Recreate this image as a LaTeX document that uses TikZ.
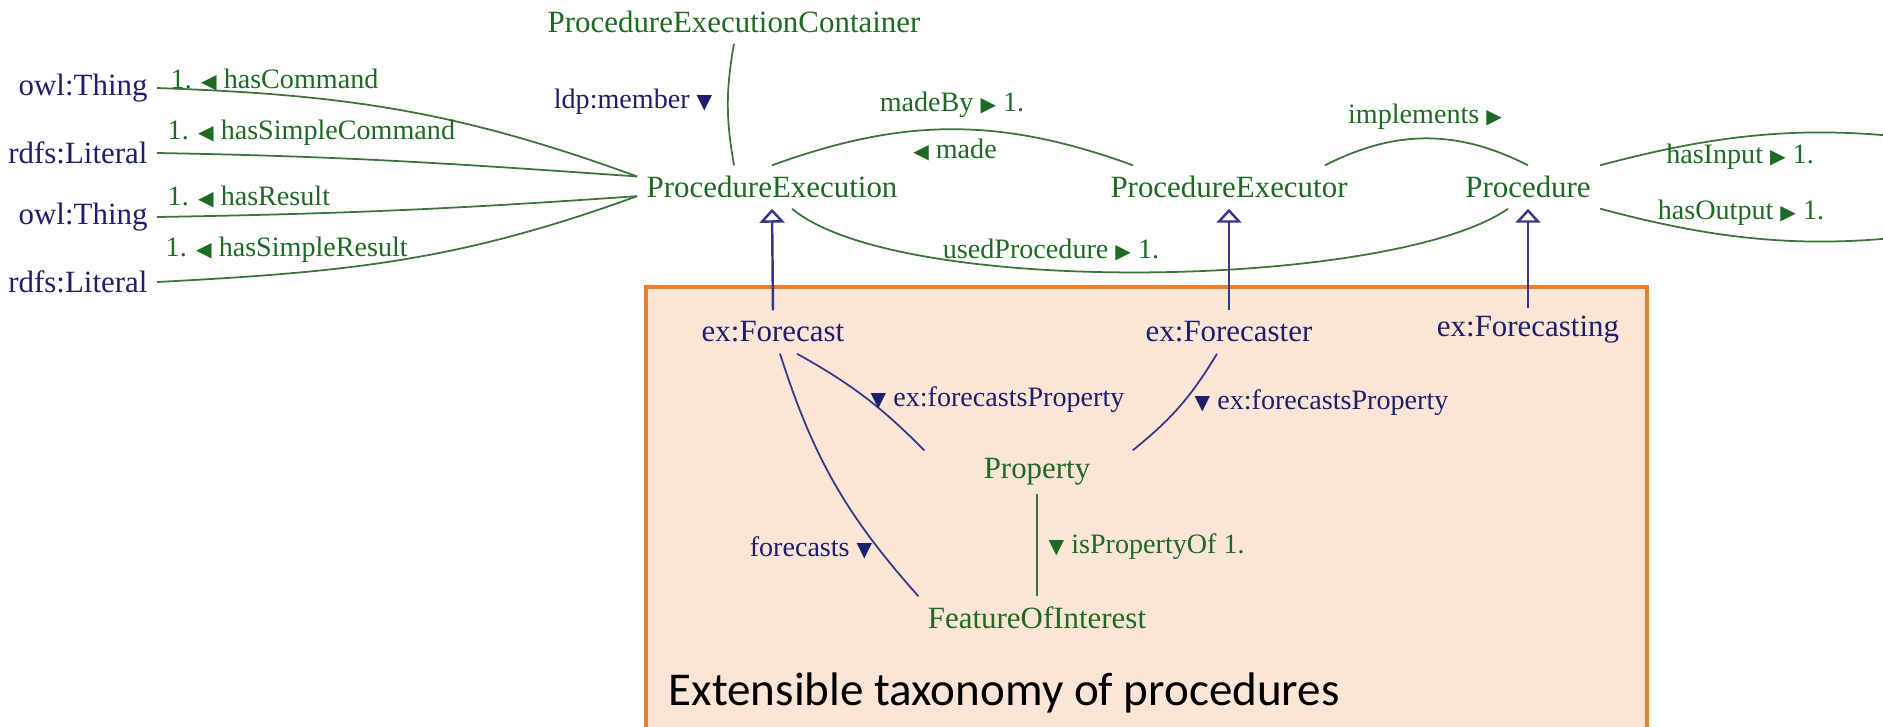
\documentclass[tikz,border=0pt]{standalone}
\usepackage{fontspec}
\setmainfont{Liberation Serif}
\newfontfamily\symfont{DejaVu Sans}[Scale=0.72]
\newfontfamily\capfont{Carlito}
\usetikzlibrary{arrows.meta}

\definecolor{ontgreen}{RGB}{30,105,35}
\definecolor{ontnavy}{RGB}{30,30,110}
\definecolor{edgegreen}{RGB}{60,115,60}
\definecolor{edgenavy}{RGB}{55,55,135}
\definecolor{boxorange}{RGB}{237,125,49}
\definecolor{boxfill}{RGB}{251,229,214}

\newcommand{\triL}{{\symfont ◀}}
\newcommand{\triR}{{\symfont ▶}}
\newcommand{\triD}{{\symfont ▼}}

\begin{document}
\begin{tikzpicture}[
    cls/.style={text=ontgreen, font=\fontsize{8.8}{10}\selectfont, inner xsep=2.5pt, inner ysep=0pt, minimum height=4.2mm},
    ext/.style={cls, text=ontnavy},
    lbl/.style={text=ontgreen, font=\fontsize{8}{9}\selectfont, inner sep=0pt},
    lblnavy/.style={lbl, text=ontnavy},
    objprop/.style={draw=edgegreen, line width=0.5pt},
    extprop/.style={draw=edgenavy, line width=0.5pt},
    subclass/.style={draw=edgenavy, line width=0.7pt, -{Triangle[open, width=2.5mm, length=1.4mm]}}
]
    \useasboundingbox (0,0) rectangle (18.83,7.26);

    % Extension box (drawn first, behind everything)
    \draw[draw=boxorange, fill=boxfill, line width=0.9pt] (6.46,4.39) rectangle (16.47,-0.3);
    \node[anchor=base west, inner sep=0pt, font={\capfont\fontsize{13.4}{16}\selectfont}] (title) at (6.68,0.21) {Extensible taxonomy of procedures};

    % Left column: ranges
    \node[ext, anchor=east] (owlA) at (1.57, 6.38) {owl:Thing};
    \node[ext, anchor=east] (litA) at (1.57, 5.73) {rdfs:Literal};
    \node[ext, anchor=east] (owlB) at (1.57, 5.09) {owl:Thing};
    \node[ext, anchor=east] (litB) at (1.57, 4.44) {rdfs:Literal};

    % Core classes
    \node[cls] (pec) at (7.34, 7.04) {ProcedureExecutionContainer};
    \node[cls] (pe) at (7.72, 5.39) {ProcedureExecution};
    \node[cls] (pex) at (12.29, 5.39) {ProcedureExecutor};
    \node[cls] (proc) at (15.28, 5.39) {Procedure};
    \coordinate (inEnd) at (20.0, 5.75);
    \coordinate (outEnd) at (20.0, 5.03);

    % Extension classes
    \node[ext] (fc) at (7.73, 3.94) {ex:Forecast};
    \node[ext] (fcr) at (12.29, 3.94) {ex:Forecaster};
    \node[ext] (fcg) at (15.28, 3.96) {ex:Forecasting};
    \node[cls] (property) at (10.37, 2.54) {Property};
    \node[cls] (foi) at (10.37, 1.08) {FeatureOfInterest};

    % Edges (left fan into ProcedureExecution)
    \draw[objprop] (owlA.east) to[out=-2, in=160] ([yshift=3pt]pe.west);
    \draw[objprop] (litA.east) to[out=-1, in=176] ([yshift=3pt]pe.west);
    \draw[objprop] (owlB.east) to[out=1, in=-176] ([yshift=-2.6pt]pe.west);
    \draw[objprop] (litB.east) to[out=3, in=-160] ([yshift=-2.6pt]pe.west);
    \node[lbl, anchor=west] (lCmd) at (1.70, 6.46) {1. \triL\ hasCommand};
    \node[lbl, anchor=west] (lSCmd) at (1.67, 5.93) {1. \triL\ hasSimpleCommand};
    \node[lbl, anchor=west] (lRes) at (1.67, 5.29) {1. \triL\ hasResult};
    \node[lbl, anchor=west] (lSRes) at (1.65, 4.76) {1. \triL\ hasSimpleResult};

    % Edges (between core classes)
    \draw[objprop] (pec.south) to[out=-100, in=100] ([xshift=-3.8mm]pe.north);
    \node[lblnavy, anchor=east] (lMember) at (7.13, 6.24) {ldp:member \triD};

    \draw[objprop] (pe.north) to[out=20, in=160] ([xshift=-9.6mm]pex.north);
    \node[lbl] (lMadeBy) at (9.52, 6.21) {madeBy \triR\ 1.};
    \node[lbl] (lMade) at (9.55, 5.76) {\triL\ made};

    \draw[objprop] ([xshift=9.6mm]pex.north) to[out=27, in=153] (proc.north);
    \node[lbl] (lImpl) at (14.25, 6.09) {implements \triR};

    \draw[objprop] ([xshift=2mm]pe.south) to[out=-40, in=-145, looseness=0.5] ([xshift=-2mm]proc.south);
    \node[lbl] (lUsed) at (10.51, 4.76) {usedProcedure \triR\ 1.};

    \draw[objprop] (proc.north east) to[out=15, in=170] (inEnd);
    \draw[objprop] (proc.south east) to[out=-15, in=-170] (outEnd);
    \node[lbl] (lIn) at (17.40, 5.69) {hasInput \triR\ 1.};
    \node[lbl] (lOut) at (17.41, 5.13) {hasOutput \triR\ 1.};

    % Edges (subclasses)
    \draw[subclass] (fc.north) -- (pe.south);
    \draw[subclass] (fcr.north) -- (pex.south);
    \draw[subclass] (fcg.north) -- (proc.south);

    % Edges (inside the extension box)
    \draw[extprop] ([xshift=2.4mm]fc.south) to[bend left=8] ([xshift=-5mm]property.north west);
    \node[lblnavy, anchor=west] (lFpA) at (8.70, 3.26) {\triD\ ex:forecastsProperty};
    \draw[extprop] ([xshift=-1.2mm]fcr.south) to[bend left=10] ([xshift=3.3mm]property.north east);
    \node[lblnavy, anchor=west] (lFpB) at (11.94, 3.23) {\triD\ ex:forecastsProperty};
    \draw[extprop] ([xshift=0.7mm]fc.south) to[bend right=12] (foi.north west);
    \node[lblnavy] (lFc) at (8.11, 1.78) {forecasts \triD};
    \draw[objprop] (property.south) -- (foi.north);
    \node[lbl, anchor=west] (lPropOf) at (10.48, 1.79) {\triD\ isPropertyOf 1.};

\end{tikzpicture}
\end{document}
